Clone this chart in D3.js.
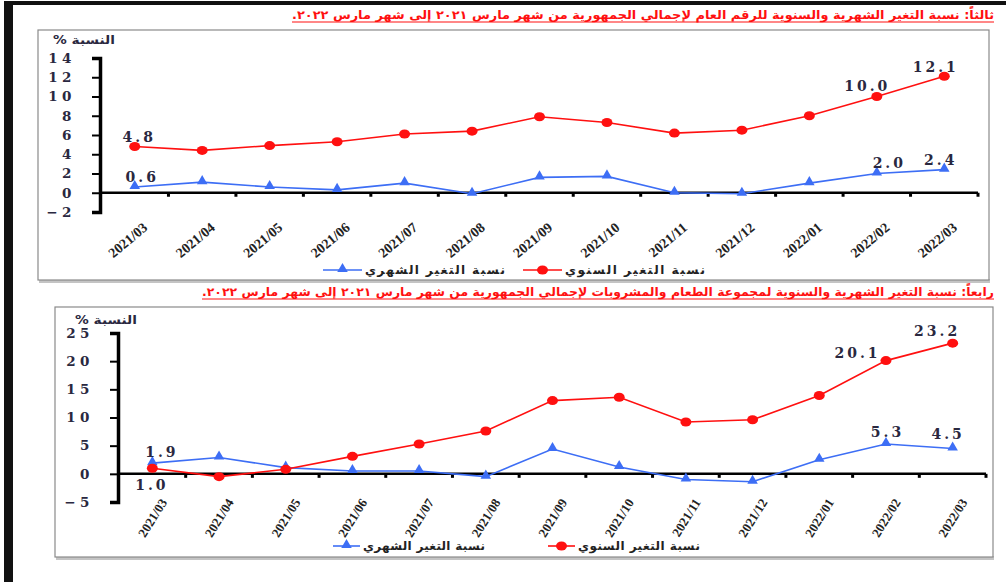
<!DOCTYPE html>
<html lang="ar">
<head>
  <meta charset="UTF-8">
  <title>نسبة التغير الشهرية والسنوية</title>
  <script src="https://d3js.org/d3.v7.min.js"></script>
  <style>
    body {
      margin: 0;
      background: white;
    }
    svg {
      display: block;
    }
    .num {
      font-family: "DejaVu Serif", "Liberation Serif", serif;
      font-weight: bold;
      fill: #2a2840;
    }
    .ar {
      font-family: "DejaVu Sans", "Noto Sans", sans-serif;
      font-weight: bold;
    }
    .xlab {
      font-family: "Liberation Serif", serif;
      font-weight: bold;
      fill: #222;
    }
  </style>
</head>
<body>
  <svg width="1006" height="582"></svg>

  <script>
    // data
    const months = ["2021/03", "2021/04", "2021/05", "2021/06", "2021/07", "2021/08", "2021/09",
                    "2021/10", "2021/11", "2021/12", "2022/01", "2022/02", "2022/03"];

    // ثالثاً: الرقم العام
    const annual1 = [4.8, 4.4, 4.9, 5.3, 6.1, 6.4, 7.9, 7.3, 6.2, 6.5, 8.0, 10.0, 12.1];
    const monthly1 = [0.6, 1.1, 0.6, 0.3, 1.0, -0.1, 1.6, 1.7, 0.0, -0.1, 1.0, 2.0, 2.4];

    // رابعاً: الطعام والمشروبات
    const annual2 = [1.0, -0.5, 0.8, 3.1, 5.3, 7.6, 13.0, 13.6, 9.2, 9.6, 13.9, 20.1, 23.2];
    const monthly2 = [1.9, 2.9, 1.1, 0.5, 0.5, -0.5, 4.4, 1.2, -1.0, -1.4, 2.5, 5.3, 4.5];

    const yTicks1 = [-2, 0, 2, 4, 6, 8, 10, 12, 14];
    const yTicks2 = [-5, 0, 5, 10, 15, 20, 25];

    const title1 = "ثالثاً: نسبة التغير الشهرية والسنوية للرقم العام لإجمالي الجمهورية من شهر مارس ٢٠٢١ إلى شهر مارس ٢٠٢٢.";
    const title2 = "رابعاً: نسبة التغير الشهرية والسنوية لمجموعة الطعام والمشروبات لإجمالي الجمهورية من شهر مارس ٢٠٢١ إلى شهر مارس ٢٠٢٢.";
    const yTitle = "النسبة %";
    const monthlyName = "نسبة التغير الشهري";
    const annualName = "نسبة التغير السنوي";

    const RED = "#ff1010";
    const BLUE = "#3d6ef5";

    const svg = d3.select("svg");

    // page border (scanned page edge)
    svg.append("rect").attr("x", 4).attr("y", 1).attr("width", 1002).attr("height", 4).attr("fill", "#111");
    svg.append("rect").attr("x", 4).attr("y", 1).attr("width", 9).attr("height", 581).attr("fill", "#111");

    const charts = [
      {
        title: title1, titleY: 19, titleW: 702,
        frame: { x: 38, y: 30, w: 951, h: 250 },
        xr: [101, 978], yd: [-2, 14], yr: [212, 58], ticks: yTicks1,
        yTitleX: 115, yTitleY: 44,
        annual: annual1, monthly: monthly1,
        labY: 221, angle: -40, labSize: 14,
        legY: 270, legBlue: [323, 362], legRed: [523, 562], legW: 140,
        labels: [
          { s: "annual", i: 0, dx: 3, dy: -5 },
          { s: "monthly", i: 0, dx: 6, dy: -5 },
          { s: "annual", i: 11, dx: -11, dy: -6 },
          { s: "annual", i: 12, dx: -10, dy: -4 },
          { s: "monthly", i: 11, dx: 11, dy: -6 },
          { s: "monthly", i: 12, dx: -5, dy: -5 }
        ]
      },
      {
        title: title2, titleY: 296, titleW: 792,
        frame: { x: 55, y: 307, w: 938, h: 250 },
        xr: [119, 986], yd: [-5, 25], yr: [502, 333], ticks: yTicks2,
        yTitleX: 137, yTitleY: 324,
        annual: annual2, monthly: monthly2,
        labY: 497, angle: -58, labSize: 13,
        legY: 546, legBlue: [333, 360], legRed: [548, 575], legW: 122,
        labels: [
          { s: "monthly", i: 0, dx: 8, dy: -6 },
          { s: "annual", i: 0, dx: -2, dy: 22 },
          { s: "annual", i: 11, dx: -30, dy: -3 },
          { s: "annual", i: 12, dx: -17, dy: -7 },
          { s: "monthly", i: 11, dx: 0, dy: -7 },
          { s: "monthly", i: 12, dx: -6, dy: -9 }
        ]
      }
    ];

    charts.forEach(drawChart);

    function drawChart(c) {
      // title, right aligned, red and underlined
      svg.append("text")
        .attr("class", "ar")
        .attr("x", 994)
        .attr("y", c.titleY)
        .attr("direction", "rtl")
        .attr("text-anchor", "start")
        .attr("font-size", 12)
        .attr("fill", RED)
        .attr("textLength", c.titleW)
        .attr("lengthAdjust", "spacingAndGlyphs")
        .text(c.title);
      svg.append("line")
        .attr("x1", 994 - c.titleW).attr("x2", 994)
        .attr("y1", c.titleY + 3).attr("y2", c.titleY + 3)
        .attr("stroke", RED).attr("stroke-width", 1.2);

      // frame with a soft bottom edge
      const f = c.frame;
      svg.append("rect")
        .attr("x", f.x + 1).attr("y", f.y + f.h - 1)
        .attr("width", f.w).attr("height", 4)
        .attr("fill", "#c4c4c4");
      svg.append("rect")
        .attr("x", f.x).attr("y", f.y)
        .attr("width", f.w).attr("height", f.h)
        .attr("fill", "white")
        .attr("stroke", "#8a8a8a")
        .attr("stroke-width", 1.2);

      const x = d3.scaleBand().domain(months).range(c.xr).padding(0);
      const y = d3.scaleLinear().domain(c.yd).range(c.yr);
      const cx = d => x(d) + x.bandwidth() / 2;

      // y axis
      const yAxis = svg.append("g")
        .attr("transform", `translate(${c.xr[0] - 1},0)`)
        .call(d3.axisLeft(y).tickValues(c.ticks).tickSizeInner(8).tickSizeOuter(8).tickPadding(20)
          .tickFormat(d => d < 0 ? "\u2212" + Math.abs(d) : d));
      yAxis.select(".domain").attr("stroke", "#000").attr("stroke-width", 3.5);
      yAxis.selectAll(".tick line").attr("stroke", "#000").attr("stroke-width", 2);
      yAxis.selectAll(".tick text")
        .attr("class", "num")
        .attr("font-size", 13.5)
        .attr("letter-spacing", 4.5)
        .attr("dx", 4);

      svg.append("text")
        .attr("class", "ar")
        .attr("x", c.yTitleX).attr("y", c.yTitleY)
        .attr("direction", "rtl")
        .attr("text-anchor", "start")
        .attr("font-size", 11.5)
        .attr("fill", "#2a2840")
        .attr("textLength", 62)
        .attr("lengthAdjust", "spacingAndGlyphs")
        .text(yTitle);

      // x axis along zero with small square ticks at band edges
      svg.append("line")
        .attr("x1", c.xr[0]).attr("x2", c.xr[1])
        .attr("y1", y(0)).attr("y2", y(0))
        .attr("stroke", "#000").attr("stroke-width", 2.5);
      const edges = months.map(m => x(m)).slice(1).concat([c.xr[1]]);
      svg.append("g").selectAll("rect")
        .data(edges)
        .join("rect")
        .attr("x", d => d - 1.5).attr("y", y(0))
        .attr("width", 3).attr("height", 4)
        .attr("fill", "#000");

      // rotated month labels
      svg.append("g").selectAll("text")
        .data(months)
        .join("text")
        .attr("class", "xlab")
        .attr("font-size", c.labSize)
        .attr("text-anchor", "end")
        .attr("transform", d => `translate(${cx(d) + 7},${c.labY}) rotate(${c.angle})`)
        .attr("dy", "0.75em")
        .text(d => d);

      // lines
      const line = d3.line().x((d, i) => cx(months[i])).y(d => y(d));
      svg.append("path")
        .datum(c.monthly)
        .attr("fill", "none").attr("stroke", BLUE).attr("stroke-width", 1.6)
        .attr("d", line);
      svg.append("path")
        .datum(c.annual)
        .attr("fill", "none").attr("stroke", RED).attr("stroke-width", 1.6)
        .attr("d", line);

      const tri = d3.symbol().type(d3.symbolTriangle).size(48);
      svg.append("g").selectAll("path")
        .data(c.monthly)
        .join("path")
        .attr("d", tri)
        .attr("transform", (d, i) => `translate(${cx(months[i])},${y(d) - 1})`)
        .attr("fill", BLUE);
      svg.append("g").selectAll("ellipse")
        .data(c.annual)
        .join("ellipse")
        .attr("cx", (d, i) => cx(months[i]))
        .attr("cy", d => y(d))
        .attr("rx", 5.5).attr("ry", 4.5)
        .attr("fill", RED);

      // value labels
      svg.append("g").selectAll("text")
        .data(c.labels)
        .join("text")
        .attr("class", "num")
        .attr("font-size", 14)
        .attr("letter-spacing", 3)
        .attr("text-anchor", "middle")
        .attr("x", d => cx(months[d.i]) + d.dx + 1.5)
        .attr("y", d => y(d.s === "annual" ? c.annual[d.i] : c.monthly[d.i]) + d.dy)
        .text(d => (d.s === "annual" ? c.annual[d.i] : c.monthly[d.i]).toFixed(1));

      // legend
      const leg = svg.append("g");
      [[c.legBlue, BLUE, "tri", monthlyName], [c.legRed, RED, "dot", annualName]].forEach(([r, col, m, name]) => {
        leg.append("line")
          .attr("x1", r[0]).attr("x2", r[1])
          .attr("y1", c.legY).attr("y2", c.legY)
          .attr("stroke", col).attr("stroke-width", 1.6);
        if (m === "tri") {
          leg.append("path").attr("d", tri)
            .attr("transform", `translate(${(r[0] + r[1]) / 2},${c.legY - 1})`)
            .attr("fill", col);
        } else {
          leg.append("ellipse")
            .attr("cx", (r[0] + r[1]) / 2).attr("cy", c.legY)
            .attr("rx", 5.5).attr("ry", 4.5).attr("fill", col);
        }
        leg.append("text")
          .attr("class", "ar")
          .attr("x", r[1] + 3 + c.legW).attr("y", c.legY + 4)
          .attr("direction", "rtl")
          .attr("text-anchor", "start")
          .attr("font-size", 12)
          .attr("fill", "#222")
          .attr("textLength", c.legW)
          .attr("lengthAdjust", "spacing")
          .text(name);
      });
    }
  </script>
</body>
</html>
